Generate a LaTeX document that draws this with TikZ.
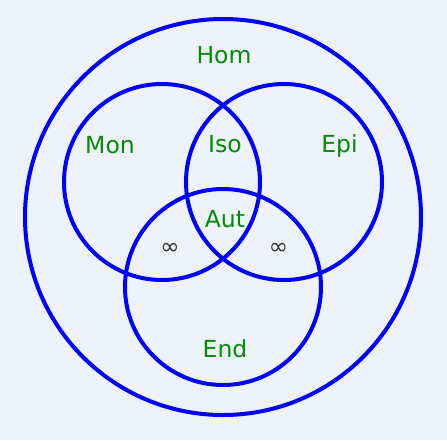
\documentclass[tikz,border=0pt]{standalone}
\usepackage{fontspec}
\setmainfont{DejaVu Sans}
\definecolor{bgc}{HTML}{EEF3FB}
\definecolor{txtc}{HTML}{078A07}
\definecolor{infc}{HTML}{333333}
\begin{document}
\begin{tikzpicture}[x=1pt,y=-1pt,
  ring/.style={draw={rgb,255:red,0;green,0;blue,255}, line width=4pt},
  lbl/.style={anchor=base, text=txtc, font=\fontsize{23.5}{27}\selectfont, inner sep=0pt},
  inf/.style={anchor=base, text=infc, font=\fontsize{23}{26}\selectfont, inner sep=0pt}]
\fill[bgc] (0,0) rectangle (447,440);
\useasboundingbox (0,0) rectangle (447,440);
\draw[ring] (223,217) circle[radius=198];
\draw[ring] (162,182) circle[radius=98];
\draw[ring] (284,182) circle[radius=98];
\draw[ring] (223,287) circle[radius=98];
\node[lbl] (hom) at (224,63) {Hom};
\node[lbl] (mon) at (110,153) {Mon};
\node[lbl] (iso) at (225,152) {Iso};
\node[lbl] (epi) at (339.5,152) {Epi};
\node[lbl] (aut) at (225,227) {Aut};
\node[lbl] (end) at (225,357) {End};
\node[inf] (infl) at (170,254) {∞};
\node[inf] (infr) at (278.5,254) {∞};
\end{tikzpicture}
\end{document}
